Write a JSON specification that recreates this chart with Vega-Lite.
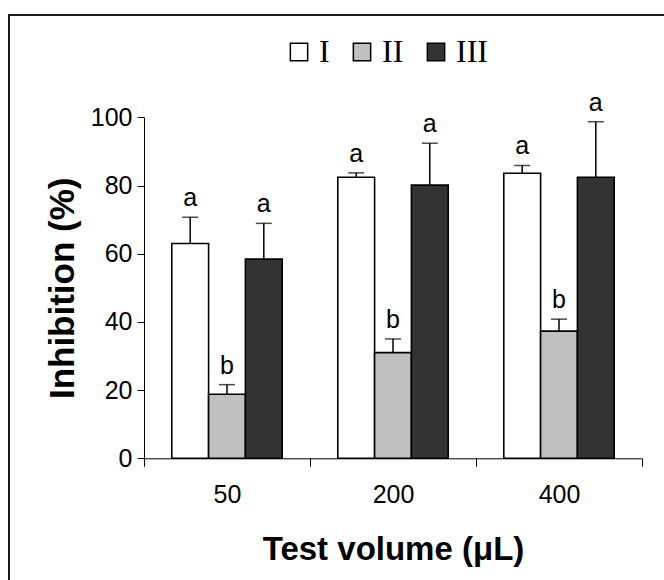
{
  "$schema": "https://vega.github.io/schema/vega-lite/v6.json",
  "autosize": {"type": "none"},
  "width": 660,
  "height": 570,
  "padding": {"left": 9, "top": 15, "right": 0, "bottom": 0},
  "background": "white",
  "config": {
    "view": {"stroke": "#1a1a1a", "strokeWidth": 2},
    "font": "Liberation Sans",
    "axis": {"grid": false, "domainColor": "black", "tickColor": "black", "labelColor": "black", "titleColor": "black", "domainWidth": 1, "tickWidth": 1}
  },
  "data": {
    "values": [
      {"vol": "50", "grp": "I", "value": 63.0, "hi": 70.7, "letter": "a"},
      {"vol": "50", "grp": "II", "value": 18.8, "hi": 21.6, "letter": "b"},
      {"vol": "50", "grp": "III", "value": 58.4, "hi": 68.9, "letter": "a"},
      {"vol": "200", "grp": "I", "value": 82.4, "hi": 83.7, "letter": "a"},
      {"vol": "200", "grp": "II", "value": 31.0, "hi": 35.0, "letter": "b"},
      {"vol": "200", "grp": "III", "value": 80.1, "hi": 92.4, "letter": "a"},
      {"vol": "400", "grp": "I", "value": 83.6, "hi": 85.9, "letter": "a"},
      {"vol": "400", "grp": "II", "value": 37.3, "hi": 40.8, "letter": "b"},
      {"vol": "400", "grp": "III", "value": 82.4, "hi": 98.7, "letter": "a"}
    ]
  },
  "encoding": {
    "x": {
      "field": "vol", "type": "nominal", "sort": ["50", "200", "400"],
      "scale": {"range": [135, 633], "paddingInner": 0, "paddingOuter": 0},
      "title": "Test volume (μL)",
      "axis": {"tickBand": "extent", "labelAngle": 0, "offset": -126.7, "tickSize": 8, "labelFontSize": 25, "labelPadding": 16, "titleFontSize": 33, "titleFontWeight": "bold", "titlePadding": 26}
    },
    "xOffset": {"field": "grp", "type": "nominal", "sort": ["I", "II", "III"], "scale": {"paddingInner": 0, "paddingOuter": 0.755}}
  },
  "layer": [
    {
      "mark": {"type": "bar", "stroke": "black", "strokeWidth": 1.6},
      "encoding": {
        "y": {
          "field": "value", "type": "quantitative",
          "scale": {"domain": [0, 100], "range": [443.3, 102.3], "nice": false, "zero": true},
          "title": "Inhibition (%)",
          "axis": {"offset": -135, "values": [0, 20, 40, 60, 80, 100], "tickSize": 7, "labelPadding": 5, "labelFontSize": 25, "titleFontSize": 35, "titleFontWeight": "bold", "titlePadding": 10}
        },
        "fill": {
          "field": "grp", "type": "nominal",
          "scale": {"domain": ["I", "II", "III"], "range": ["#ffffff", "#c0c0c0", "#333333"]},
          "legend": {"orient": "none", "legendX": 274, "legendY": 21, "direction": "horizontal", "title": null, "symbolType": "square", "symbolSize": 300, "symbolStrokeColor": "black", "symbolStrokeWidth": 1.5, "labelFont": "Liberation Serif", "labelFontSize": 32, "labelOffset": 4, "columnPadding": 16, "labelColor": "black", "padding": 0}
        }
      }
    },
    {
      "mark": {"type": "rule", "color": "black", "strokeWidth": 1.5},
      "encoding": {"y": {"field": "value", "type": "quantitative"}, "y2": {"field": "hi"}}
    },
    {
      "mark": {"type": "tick", "color": "black", "thickness": 1.5, "size": 16, "orient": "horizontal"},
      "encoding": {"y": {"field": "hi", "type": "quantitative"}}
    },
    {
      "mark": {"type": "text", "dy": -11, "baseline": "alphabetic", "fontSize": 25, "color": "black"},
      "encoding": {"y": {"field": "hi", "type": "quantitative"}, "text": {"field": "letter"}}
    }
  ]
}
